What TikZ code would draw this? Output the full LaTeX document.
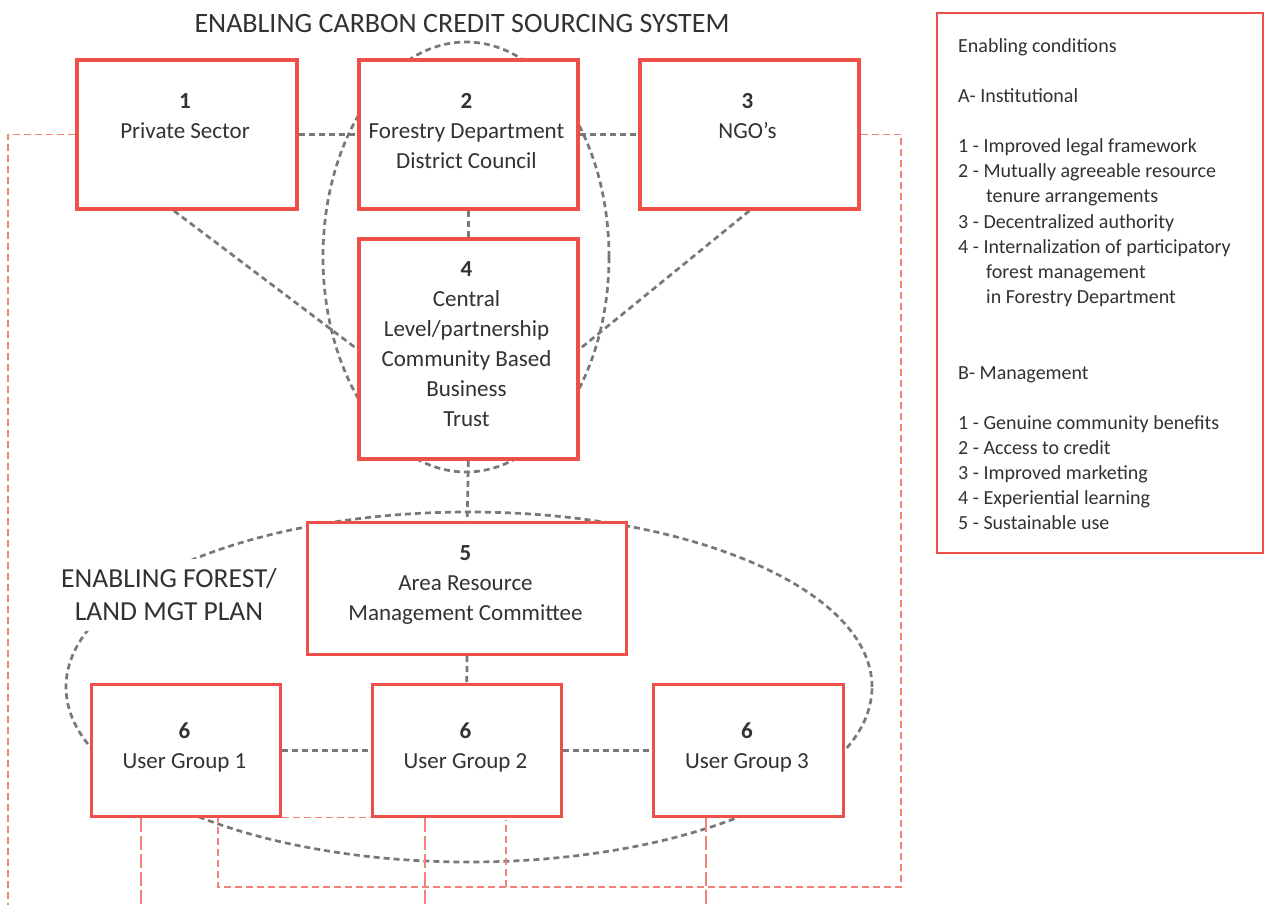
\documentclass[tikz,border=0pt]{standalone}
\usepackage{fontspec}
\setmainfont{Carlito}
\usetikzlibrary{backgrounds,calc}
\definecolor{boxred}{RGB}{237,80,72}
\definecolor{lightred}{RGB}{242,130,120}
\definecolor{dgray}{RGB}{120,120,120}
\definecolor{txt}{RGB}{50,50,50}
\begin{document}
\begin{tikzpicture}[x=1pt,y=-1pt,
  box/.style={draw=boxred,fill=white,line width=3.8pt,inner sep=0pt,anchor=north west},
  thinbox/.style={box,line width=2.5pt},
  lbl/.style={align=center,inner sep=0pt,text=txt,font=\fontsize{23}{30}\selectfont,anchor=north},
  gdash/.style={draw=dgray,line width=2.7pt,dash pattern=on 6pt off 4pt},
  rdash/.style={draw=lightred,line width=1.6pt,dash pattern=on 7pt off 4pt},
  rlong/.style={draw=lightred,line width=1.4pt,dash pattern=on 14pt off 4pt}]
\useasboundingbox (0,0) rectangle (1266,905);
% boxes
\node[box,minimum width=220pt,minimum height=149pt] (b1) at (75,58) {};
\node[box,minimum width=219pt,minimum height=149pt] (b2) at (357,58) {};
\node[box,minimum width=219pt,minimum height=149pt] (b3) at (638,58) {};
\node[box,minimum width=219pt,minimum height=220pt] (b4) at (357,237) {};
\node[box,line width=3.2pt,minimum width=319pt,minimum height=132pt] (b5) at (306,521) {};
\node[thinbox,minimum width=189pt,minimum height=132pt] (g1) at (90,683) {};
\node[thinbox,minimum width=189pt,minimum height=132pt] (g2) at (371,683) {};
\node[thinbox,minimum width=190pt,minimum height=132pt] (g3) at (652,683) {};
% texts
\node[lbl] (t1) at (185,93) {\textbf{1}\\Private Sector};
\node[lbl] (t2) at (466.5,93) {\textbf{2}\\Forestry Department\\District Council};
\node[lbl] (t3) at (747.5,93) {\textbf{3}\\NGO’s};
\node[lbl] (t4) at (466.5,261) {\textbf{4}\\Central\\Level/partnership\\Community Based\\Business\\Trust};
\node[lbl] (t5) at (465.5,545) {\textbf{5}\\Area Resource\\Management Committee};
\node[lbl] (tg1) at (184.5,723) {\textbf{6}\\User Group 1};
\node[lbl] (tg2) at (465.5,723) {\textbf{6}\\User Group 2};
\node[lbl] (tg3) at (747,723) {\textbf{6}\\User Group 3};
% titles
\node[font=\fontsize{28}{30}\selectfont,text=txt,inner sep=0pt] (title) at (462,24) {ENABLING CARBON CREDIT SOURCING SYSTEM};
\node[fill=white,align=center,font=\fontsize{27.5}{33}\selectfont,text=txt,inner sep=10pt] (plan) at (169,595) {ENABLING FOREST/\\LAND MGT PLAN};
% right box
\node[draw=boxred,line width=2pt,minimum width=326pt,minimum height=540pt,anchor=north west,inner sep=0pt] (rb) at (936,12) {};
\node[anchor=north west,align=left,inner sep=0pt,text=txt,font=\fontsize{20}{25.15}\selectfont] (rt) at (958,38) {Enabling conditions\\ \mbox{}\\
A- Institutional\\ \mbox{}\\
1 - Improved legal framework\\
2 - Mutually agreeable resource\\
\hspace*{28pt}tenure arrangements\\
3 - Decentralized authority\\
4 - Internalization of participatory\\
\hspace*{28pt}forest management\\
\hspace*{28pt}in Forestry Department\\ \mbox{}\\ \mbox{}\\
B- Management\\ \mbox{}\\
1 - Genuine community benefits\\
2 - Access to credit\\
3 - Improved marketing\\
4 - Experiential learning\\
5 - Sustainable use};
\begin{pgfonlayer}{background}
\fill[white] (0,0) rectangle (1266,905);
\draw[gdash] (466,257) ellipse [x radius=143pt, y radius=215pt];
\draw[gdash] (469,687) ellipse [x radius=403pt, y radius=175pt];
\draw[gdash] (b1.east) -- (b2.west);
\draw[gdash] (b2.east) -- (b3.west);
\draw[gdash] (b2.south) -- (b4.north);
\draw[gdash] ([xshift=-13pt]b1.south) -- (b4.west);
\draw[gdash] (b3.south) -- (b4.east);
\draw[gdash] (b4.south) -- (b5.north);
\draw[gdash] (b5.south) -- (g2.north);
\draw[gdash] (g1.east) -- (g2.west);
\draw[gdash] (g2.east) -- (g3.west);
% red dashed
\coordinate (lb) at (8,905);
\coordinate (rc) at (901,887);
\coordinate (lc) at (218,887);
\coordinate (mc) at (506,887);
\coordinate (mt) at (506,820);
\coordinate (v1) at (141,905);
\coordinate (v2) at (425,905);
\coordinate (v3) at (706,905);
\draw[rdash] (b1.west) -| (lb);
\draw[rdash] (b3.east) -| (rc) -- (lc) -- (lc |- g1.south);
\draw[rdash] (mc) -- (mt);
\draw[rdash] (g1.south east) -- (g2.south west);
\draw[rlong] (v1 |- g1.south) -- (v1);
\draw[rlong] (v2 |- g2.south) -- (v2);
\draw[rlong] (v3 |- g3.south) -- (v3);
\end{pgfonlayer}
\end{tikzpicture}
\end{document}
